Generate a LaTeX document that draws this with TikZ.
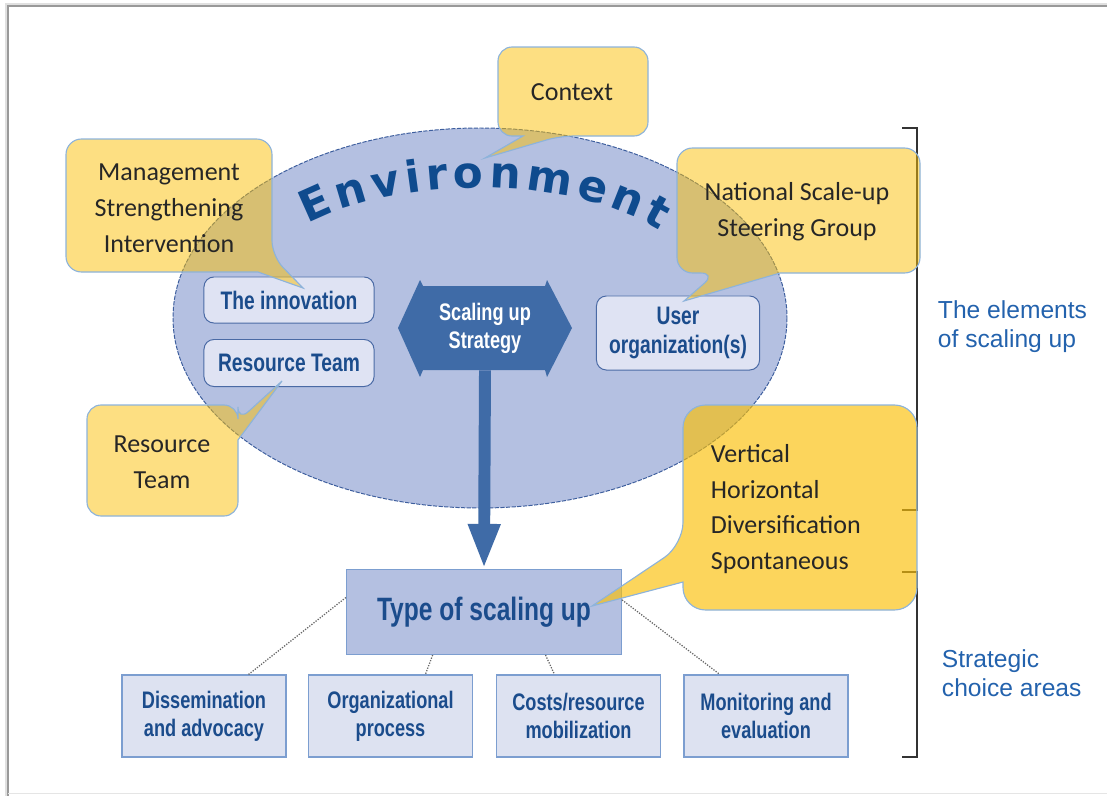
\documentclass[tikz,border=0pt]{standalone}
\usepackage{fontspec}
\setmainfont{Liberation Sans}
\newfontfamily\callfont{Carlito}
\newfontfamily\condfont[FakeStretch=0.76]{Liberation Sans}
\newfontfamily\envfont{DejaVu Sans}
\usetikzlibrary{arrows.meta,decorations.text}

\definecolor{envfill}{HTML}{B4C0E1}
\definecolor{envline}{HTML}{3E5F9E}
\definecolor{inboxfill}{HTML}{DFE3F3}
\definecolor{inboxline}{HTML}{4A6AA5}
\definecolor{textblue}{HTML}{1B4C8C}
\definecolor{stratblue}{HTML}{3F6BA7}
\definecolor{boxline}{HTML}{7C9ED0}
\definecolor{lowfill}{HTML}{DDE2F1}
\definecolor{callyellow}{HTML}{FBBF05}
\definecolor{callline}{HTML}{8DB3DB}
\definecolor{envblue}{HTML}{0F4B8E}
\definecolor{sideblue}{HTML}{2362AD}

\tikzset{
  bubble/.style={fill=callyellow, fill opacity=0.5, draw=callline, line width=0.8pt},
  calltext/.style={font={\callfont\fontsize{18.5}{25.5}\selectfont}, align=center, text=black!85},
  inbox/.style={rounded corners=7pt, fill=inboxfill, draw=inboxline, line width=0.7pt,
    text=textblue, align=center, inner sep=0pt,
    font={\condfont\bfseries\fontsize{18}{21}\selectfont}},
  lowbox/.style={fill=lowfill, draw=boxline, line width=0.8pt, text=textblue, align=center,
    minimum width=4.1cm, minimum height=2.05cm, inner sep=0pt,
    font={\condfont\bfseries\fontsize{17}{20}\selectfont}},
  sidelabel/.style={anchor=west, align=left, text=sideblue,
    font={\fontsize{17.5}{20.5}\selectfont}},
  dots/.style={draw=black!60, densely dotted, line width=0.9pt},
  bracket/.style={draw=black!80, line width=1.1pt}
}

\begin{document}
\begin{tikzpicture}[x=0.025cm, y=-0.025cm]
\useasboundingbox (0,0) rectangle (1107,796);
% page frame
\draw[black!12, line width=2pt] (6,796) -- (6,4) -- (1107,4);
\draw[black!40, line width=0.8pt] (8,796) -- (8,6) -- (1107,6);
\draw[black!10, line width=0.7pt] (8,793) -- (1107,793);

% brackets on the right
\draw[bracket] (902,128) -- (917,128) -- (917,510) -- (902,510);
\draw[bracket] (902,572) -- (917,572) -- (917,757) -- (902,757);
\node[sidelabel] (elem) at (933,327) {The elements\\of scaling up};
\node[sidelabel] (choice) at (937,673) {Strategic\\choice areas};

% environment
\fill[envfill] (480,318) ellipse [x radius=307, y radius=190];
\draw[envline, line width=0.7pt, dash pattern=on 3pt off 1pt] (480,318) ellipse [x radius=307, y radius=190];
\path[decorate, decoration={text along path, text align={fit to path},
    text={|\envfont\bfseries\fontsize{31}{31}\selectfont\color{envblue}|Environment}}]
  (308,224) .. controls (390,180) and (560,170) .. (660,231);

\node[inbox, minimum width=4.25cm, minimum height=1.15cm] (inno) at (289,300) {The innovation};
\node[inbox, minimum width=4.25cm, minimum height=1.175cm] (team) at (289,363) {Resource Team};
\node[inbox, minimum width=4.075cm, minimum height=1.85cm] (user) at (678,333) {User\\organization(s)};

% strategy double arrow
\fill[stratblue] (398,328) -- (420,280) -- (423,286) -- (545,286) -- (547,280) -- (572,328)
  -- (547,377) -- (545,370) -- (423,370) -- (420,377) -- cycle;
\node[text=white, align=center, minimum width=3.1cm, minimum height=2.1cm, inner sep=0pt,
  font={\condfont\bfseries\fontsize{17}{20}\selectfont}] (strat) at (485,328) {Scaling up\\Strategy};

\node[fill=envfill, draw=boxline, line width=0.8pt, text=textblue, minimum width=6.875cm,
  minimum height=2.125cm, font={\condfont\bfseries\fontsize{23}{26}\selectfont}] (typ) at (484,612) {Type of scaling up};
\draw[stratblue, line width=8.5pt, -{Triangle[width=21pt,length=32pt]}] (strat.south) -- (typ.north);

% strategic choice areas
\node[lowbox] (b1) at (204,716) {Dissemination\\and advocacy};
\node[lowbox] (b2) at (390.5,716) {Organizational\\process};
\node[lowbox] (b3) at (578.5,716) {Costs/resource\\mobilization};
\node[lowbox] (b4) at (766,716) {Monitoring and\\evaluation};
\draw[dots] (typ.174) -- (b1.43);
\draw[dots] (typ.220) -- (b2.50);
\draw[dots] (typ.325) -- (b3.120);
\draw[dots] (typ.5) -- (b4.138);

% callouts
\draw[bubble] (523,136) [rounded corners=10pt] -- (498,136) -- (498,47) -- (648,47) -- (648,136)
  -- (560,136) [sharp corners] -- (485,158) -- cycle;
\draw[bubble] (258,272) [rounded corners=11pt] -- (66,272) -- (66,139) -- (272,139)
  -- (272,256) [sharp corners] -- (303,288) -- cycle;
\draw[bubble] (780,273) [rounded corners=11pt] -- (920,273) -- (920,148) -- (677,148)
  -- (677,273) -- (716,273) [sharp corners] -- (684,301) -- cycle;
\draw[bubble] (238,440) [rounded corners=10pt] -- (238,516) -- (87,516) -- (87,405)
  -- (238,405) -- (238,421) [sharp corners] -- (282,381) -- cycle;
\draw[bubble, fill opacity=0.65] (683,582) [rounded corners=16pt] -- (683,610) -- (917,610)
  -- (917,405) -- (683,405) -- (683,545) [sharp corners] -- (592,606) -- cycle;

\node[calltext] (ctx) at (572,92) {Context};
\node[calltext] (msi) at (169,208) {Management\\Strengthening\\Intervention};
\node[calltext, inner sep=1pt] (nsg) at (797,212) {National Scale-up\\Steering Group};
\node[calltext] (rtm) at (162,462) {Resource\\Team};
\node[calltext, align=left, anchor=west] (kinds) at (706,509) {Vertical\\Horizontal\\Diversification\\Spontaneous};
\end{tikzpicture}
\end{document}
